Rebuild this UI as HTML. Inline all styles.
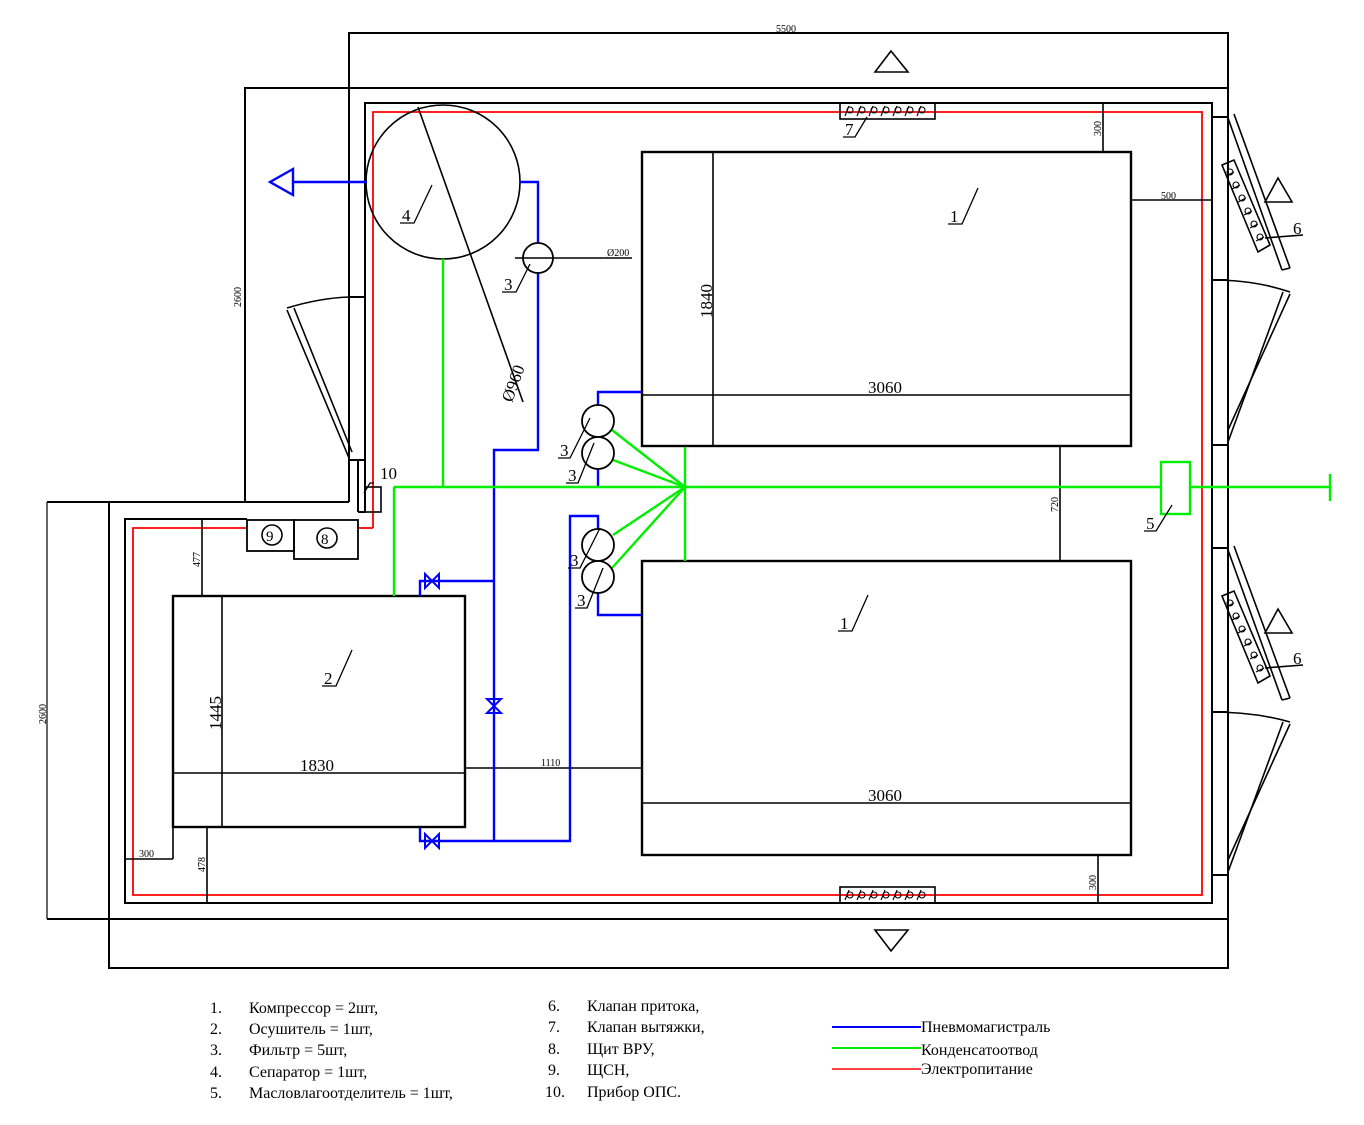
<!DOCTYPE html>
<html><head><meta charset="utf-8"><style>
html,body{margin:0;padding:0;background:#fff;}
svg{display:block;}
text{font-family:"Liberation Serif",serif;}
</style></head><body>
<svg width="1364" height="1125" viewBox="0 0 1364 1125" xmlns="http://www.w3.org/2000/svg">
<g fill="none" stroke="#000" stroke-width="2">
<polyline points="349,502 349,33 1228,33 1228,968 109,968 109,502"/>
<polyline points="245,502 245,88 1228,88"/>
<line x1="47" y1="502" x2="349" y2="502"/>
<line x1="47" y1="919" x2="1228" y2="919"/>
<line x1="47" y1="502" x2="47" y2="919" stroke-width="1.2"/>
<line x1="245" y1="88" x2="245" y2="502" stroke-width="1.4"/>
<polyline points="358,512 365,512 365,103 1212,103 1212,903 125,903 125,519 247,519"/>
<line x1="358" y1="460" x2="358" y2="512"/>
<line x1="349" y1="297" x2="365" y2="297"/>
<line x1="349" y1="460" x2="365" y2="460"/>
<line x1="1212" y1="117" x2="1228" y2="117"/>
<line x1="1212" y1="280" x2="1228" y2="280"/>
<line x1="1212" y1="445" x2="1228" y2="445"/>
<line x1="1212" y1="548" x2="1228" y2="548"/>
<line x1="1212" y1="712" x2="1228" y2="712"/>
<line x1="1212" y1="875" x2="1228" y2="875"/>
</g>
<polyline points="373,528 373,112 1202,112 1202,895 133,895 133,528 247,528" fill="none" stroke="#f00" stroke-width="1.8"/>
<polyline points="358,528 373,528" fill="none" stroke="#f00" stroke-width="1.8"/>

<g fill="none" stroke="#000" stroke-width="1.6">
<line x1="1228" y1="118" x2="1282" y2="270"/><line x1="1234" y1="114" x2="1290" y2="268"/><line x1="1282" y1="270" x2="1290" y2="268"/>
<path d="M1212,280 Q1255,280 1290,292"/>
<line x1="1228" y1="442" x2="1283" y2="292"/><line x1="1228" y1="430" x2="1290" y2="294"/>
<polygon points="1222,165 1234,160 1270,245 1258,252"/>
<polygon points="1265,202 1292,202 1278,178"/>
<line x1="1265" y1="238" x2="1303" y2="235"/>
<line x1="1228" y1="550" x2="1282" y2="700"/><line x1="1234" y1="546" x2="1290" y2="698"/><line x1="1282" y1="700" x2="1290" y2="698"/>
<path d="M1212,712 Q1255,712 1290,722"/>
<line x1="1228" y1="872" x2="1283" y2="722"/><line x1="1228" y1="860" x2="1290" y2="724"/>
<polygon points="1222,596 1234,591 1270,676 1258,683"/>
<polygon points="1265,633 1292,633 1278,609"/>
<line x1="1265" y1="668" x2="1303" y2="665"/>
<line x1="287" y1="310" x2="349" y2="458"/><line x1="294" y1="308" x2="352" y2="452"/>
<path d="M287,308 Q320,298 349,297"/>
<polygon points="875,72 908,72 891,51"/>
<polygon points="875,930 908,930 891,951"/>
<rect x="840" y="103" width="95" height="16"/>
<rect x="840" y="887" width="95" height="16"/>
</g>
<g fill="none" stroke="#000" stroke-width="1.1">
<path d="M845,116 l4,-10 M857,116 l4,-10 M869,116 l4,-10 M881,116 l4,-10 M893,116 l4,-10 M905,116 l4,-10 M917,116 l4,-10"/>
<circle cx="850" cy="110" r="3"/><circle cx="862" cy="110" r="3"/><circle cx="874" cy="110" r="3"/><circle cx="886" cy="110" r="3"/><circle cx="898" cy="110" r="3"/><circle cx="910" cy="110" r="3"/><circle cx="922" cy="110" r="3"/>
<path d="M845,900 l4,-10 M857,900 l4,-10 M869,900 l4,-10 M881,900 l4,-10 M893,900 l4,-10 M905,900 l4,-10 M917,900 l4,-10"/>
<circle cx="850" cy="895" r="3"/><circle cx="862" cy="895" r="3"/><circle cx="874" cy="895" r="3"/><circle cx="886" cy="895" r="3"/><circle cx="898" cy="895" r="3"/><circle cx="910" cy="895" r="3"/><circle cx="922" cy="895" r="3"/>
<circle cx="1230" cy="172" r="3"/><circle cx="1236" cy="185" r="3"/><circle cx="1242" cy="198" r="3"/><circle cx="1248" cy="211" r="3"/><circle cx="1254" cy="224" r="3"/><circle cx="1260" cy="237" r="3"/>
<path d="M1226,176 l8,-4 M1232,189 l8,-4 M1238,202 l8,-4 M1244,215 l8,-4 M1250,228 l8,-4 M1256,241 l8,-4"/>
<circle cx="1230" cy="603" r="3"/><circle cx="1236" cy="616" r="3"/><circle cx="1242" cy="629" r="3"/><circle cx="1248" cy="642" r="3"/><circle cx="1254" cy="655" r="3"/><circle cx="1260" cy="668" r="3"/>
<path d="M1226,607 l8,-4 M1232,620 l8,-4 M1238,633 l8,-4 M1244,646 l8,-4 M1250,659 l8,-4 M1256,672 l8,-4"/>
</g>

<g fill="none" stroke="#000" stroke-width="2.4">
<rect x="642" y="152" width="489" height="294"/>
<rect x="642" y="561" width="489" height="294"/>
<rect x="173" y="596" width="292" height="231"/>
<rect x="247" y="520" width="47" height="31" stroke-width="1.8"/>
<rect x="294" y="520" width="64" height="39" stroke-width="1.8"/>
<rect x="365" y="487" width="16" height="25" stroke-width="1.6"/>
</g>
<g fill="none" stroke="#000" stroke-width="1.6">
<circle cx="272" cy="535" r="10"/><circle cx="327" cy="538" r="10"/>
<circle cx="443" cy="182" r="77"/>
<line x1="418" y1="107" x2="523" y2="402"/>
<line x1="642" y1="395" x2="1131" y2="395"/>
<line x1="713" y1="152" x2="713" y2="446"/>
<line x1="642" y1="803" x2="1131" y2="803"/>
<line x1="173" y1="773" x2="465" y2="773"/>
<line x1="222" y1="596" x2="222" y2="827"/>
<line x1="465" y1="768" x2="642" y2="768"/>
<line x1="1060" y1="446" x2="1060" y2="561"/>
<line x1="1103" y1="103" x2="1103" y2="152"/>
<line x1="1131" y1="200" x2="1212" y2="200"/>
<line x1="1098" y1="855" x2="1098" y2="903"/>
<line x1="202" y1="519" x2="202" y2="596"/>
<line x1="207" y1="827" x2="207" y2="903"/>
<line x1="125" y1="859" x2="173" y2="859"/>
<line x1="173" y1="827" x2="173" y2="859"/>
</g>

<g fill="none" stroke="#00f" stroke-width="2.4">
<line x1="293" y1="182" x2="367" y2="182"/>
<polygon points="270,182 293,169 293,195"/>
<polyline points="520,182 538,182 538,450 494,450 494,841 420,841 420,828"/>
<polyline points="494,581 420,581 420,596"/>
<polyline points="494,841 570,841 570,516 598,516 598,529"/>
<polyline points="598,405 598,392 642,392"/>
<line x1="598" y1="469" x2="598" y2="487"/>
<polyline points="598,593 598,615 642,615"/>
<path d="M425,574 L439,588 L439,574 L425,588 Z" stroke-width="2"/>
<path d="M425,834 L439,848 L439,834 L425,848 Z" stroke-width="2"/>
<path d="M487,699 L501,713 L487,713 L501,699 Z" stroke-width="2"/>
</g>
<g fill="none" stroke="#0e0" stroke-width="2.4">
<line x1="394" y1="487" x2="1161" y2="487"/>
<line x1="1190" y1="487" x2="1330" y2="487"/>
<line x1="1330" y1="474" x2="1330" y2="501"/>
<rect x="1161" y="462" width="29" height="52"/>
<line x1="443" y1="259" x2="443" y2="487"/>
<line x1="394" y1="487" x2="394" y2="596"/>
<line x1="685" y1="447" x2="685" y2="561"/>
<line x1="685" y1="487" x2="612" y2="430"/>
<line x1="685" y1="487" x2="613" y2="460"/>
<line x1="685" y1="487" x2="613" y2="535"/>
<line x1="685" y1="487" x2="612" y2="568"/>
</g>
<g fill="#fff" stroke="#000" stroke-width="1.8">
<circle cx="538" cy="258" r="15"/>
<circle cx="598" cy="421" r="16"/><circle cx="598" cy="453" r="16"/>
<circle cx="598" cy="545" r="16"/><circle cx="598" cy="577" r="16"/>
</g>
<line x1="515" y1="258" x2="632" y2="258" stroke="#000" stroke-width="1.4"/>

<g fill="none" stroke="#000" stroke-width="1.3">
<path d="M948,224 h14 l16,-36"/>
<path d="M838,631 h14 l16,-36"/>
<path d="M322,686 h14 l16,-36"/>
<path d="M400,223 h14 l18,-38"/>
<path d="M502,292 h14 l14,-28"/>
<path d="M558,458 h12 l20,-40"/>
<path d="M566,483 h12 l16,-40"/>
<path d="M568,568 h12 l20,-40"/>
<path d="M575,608 h12 l16,-40"/>
<path d="M1144,531 h12 l16,-26"/>
<path d="M843,137 h12 l12,-20"/>
<path d="M374,483 h-4 l-6,10"/>
</g>

<g fill="#000" font-size="17">
<text x="950" y="222">1</text>
<text x="840" y="629">1</text>
<text x="324" y="684">2</text>
<text x="402" y="221">4</text>
<text x="504" y="290">3</text>
<text x="560" y="456">3</text>
<text x="568" y="481">3</text>
<text x="570" y="566">3</text>
<text x="577" y="606">3</text>
<text x="1146" y="529">5</text>
<text x="1293" y="234">6</text>
<text x="1293" y="664">6</text>
<text x="845" y="135">7</text>
<text x="380" y="479">10</text>
<text x="266" y="541" font-size="15">9</text>
<text x="321" y="544" font-size="15">8</text>
</g>
<g fill="#000" font-size="17">
<text x="868" y="393">3060</text>
<text x="868" y="801">3060</text>
<text x="300" y="771">1830</text>
<text x="712" y="318" transform="rotate(-90 712 318)">1840</text>
<text x="221" y="730" transform="rotate(-90 221 730)">1445</text>
<text x="512" y="403" transform="rotate(-70 512 403)">Ø960</text>
</g>
<g fill="#000" font-size="10">
<text x="776" y="32">5500</text>
<text x="1161" y="199">500</text>
<text x="607" y="256">Ø200</text>
<text x="541" y="766">1110</text>
<text x="139" y="857">300</text>
<text x="241" y="307" transform="rotate(-90 241 307)">2600</text>
<text x="46" y="724" transform="rotate(-90 46 724)">2600</text>
<text x="1101" y="136" transform="rotate(-90 1101 136)">300</text>
<text x="1058" y="512" transform="rotate(-90 1058 512)">720</text>
<text x="1096" y="890" transform="rotate(-90 1096 890)">300</text>
<text x="200" y="567" transform="rotate(-90 200 567)">477</text>
<text x="205" y="872" transform="rotate(-90 205 872)">478</text>
</g>

<g fill="#000" font-size="16">
<text x="210" y="1013">1.</text><text x="249" y="1013">Компрессор = 2шт,</text>
<text x="210" y="1034">2.</text><text x="249" y="1034">Осушитель = 1шт,</text>
<text x="210" y="1055">3.</text><text x="249" y="1055">Фильтр = 5шт,</text>
<text x="210" y="1077">4.</text><text x="249" y="1077">Сепаратор = 1шт,</text>
<text x="210" y="1098">5.</text><text x="249" y="1098">Масловлагоотделитель = 1шт,</text>
<text x="548" y="1011">6.</text><text x="587" y="1011">Клапан притока,</text>
<text x="548" y="1032">7.</text><text x="587" y="1032">Клапан вытяжки,</text>
<text x="548" y="1054">8.</text><text x="587" y="1054">Щит ВРУ,</text>
<text x="548" y="1075">9.</text><text x="587" y="1075">ЩСН,</text>
<text x="545" y="1097">10.</text><text x="587" y="1097">Прибор ОПС.</text>
<text x="921" y="1032">Пневмомагистраль</text>
<text x="921" y="1055">Конденсатоотвод</text>
<text x="921" y="1074">Электропитание</text>
</g>
<line x1="832" y1="1027" x2="921" y2="1027" stroke="#00f" stroke-width="2"/>
<line x1="832" y1="1048" x2="921" y2="1048" stroke="#0e0" stroke-width="2"/>
<line x1="832" y1="1069" x2="921" y2="1069" stroke="#f00" stroke-width="1.6"/>
</svg>
</body></html>
